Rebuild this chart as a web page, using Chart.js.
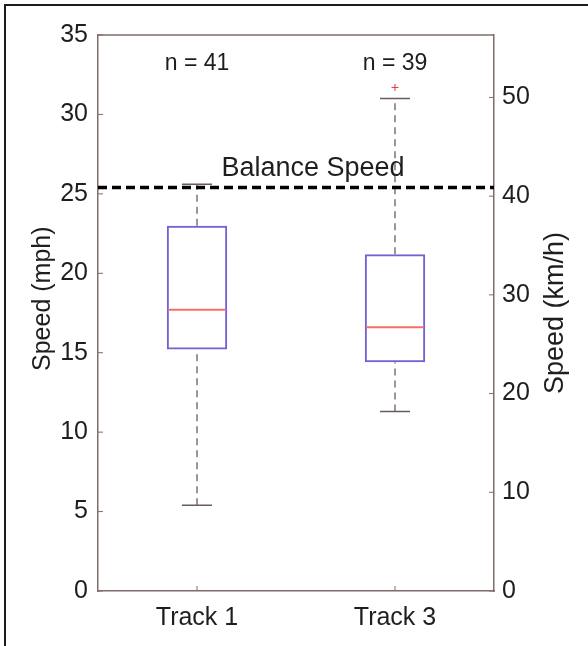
<!DOCTYPE html>
<html><head><meta charset="utf-8">
<script src="https://cdn.jsdelivr.net/npm/chart.js@4.4.1/dist/chart.umd.min.js"></script>
<style>
html,body{margin:0;padding:0;background:#fff;overflow:hidden;}
#wrap{position:relative;width:588px;height:646px;overflow:hidden;background:#fff;}
#frame{position:absolute;left:4px;top:4px;width:620px;height:680px;border-left:2.5px solid #1c1c1c;border-top:2.5px solid #1c1c1c;}
canvas{position:absolute;left:0;top:0;}
</style></head><body>
<div id="wrap"><div id="frame"></div><canvas id="c" width="588" height="646"></canvas></div>
<script>
// ---- data ----
const categories = ['Track 1', 'Track 3'];
const sampleSizes = [41, 39];
const lowerWhisker = [5.4, 11.3];
const q1 = [15.2, 14.4];
const median = [17.7, 16.6];
const q3 = [23.0, 21.2];
const upperWhisker = [25.6, 31.0];
const outliers = [[], [31.7]];
const balanceSpeed = 25.4;
const mphTicks = [0, 5, 10, 15, 20, 25, 30, 35];
const kmhTicks = [0, 10, 20, 30, 40, 50];
const MPH_TO_KMH = 1.609344;

// ---- styles ----
const FONT = 'Liberation Sans, Arial, sans-serif';
const TEXT = '#1e1e1e';
const AXIS = '#7d6e6a';
const BOX = '#7163d6';
const MED = '#f2706a';
const WHISK = '#6a5c5a';

const whiskerData = [];
categories.forEach((c, i) => {
  whiskerData.push({x: c, y: lowerWhisker[i]}, {x: c, y: q1[i]}, {x: c, y: null});
  whiskerData.push({x: c, y: q3[i]}, {x: c, y: upperWhisker[i]}, {x: c, y: null});
});
const capData = [];
categories.forEach((c, i) => {
  capData.push({x: c, y: lowerWhisker[i]}, {x: c, y: upperWhisker[i]});
});
const outlierData = [];
categories.forEach((c, i) => outliers[i].forEach(v => outlierData.push({x: c, y: v})));

function vText(ctx, text, x, y) {
  ctx.save();
  ctx.translate(x, y);
  ctx.rotate(-Math.PI / 2);
  ctx.fillText(text, 0, 0);
  ctx.restore();
}

const decorPlugin = {
  id: 'decor',
  afterDraw(chart) {
    const {ctx, chartArea: a, scales} = chart;
    ctx.save();
    ctx.strokeStyle = AXIS;
    ctx.lineWidth = 1.5;
    // top border
    ctx.beginPath(); ctx.moveTo(a.left, a.top); ctx.lineTo(a.right, a.top); ctx.stroke();
    // inward tick marks
    ctx.lineWidth = 1;
    ctx.beginPath();
    scales.y.ticks.forEach(t => { const p = scales.y.getPixelForValue(t.value); ctx.moveTo(a.left, p); ctx.lineTo(a.left + 5, p); });
    scales.y2.ticks.forEach(t => { const p = scales.y2.getPixelForValue(t.value); ctx.moveTo(a.right, p); ctx.lineTo(a.right - 5, p); });
    categories.forEach((c, i) => { const p = scales.x.getPixelForValue(i); ctx.moveTo(p, a.bottom); ctx.lineTo(p, a.bottom - 5); });
    ctx.stroke();
    // annotations
    ctx.fillStyle = TEXT;
    ctx.textAlign = 'center';
    ctx.textBaseline = 'middle';
    ctx.font = '23px ' + FONT;
    categories.forEach((c, i) => {
      ctx.fillText('n = ' + sampleSizes[i], scales.x.getPixelForValue(i), scales.y.getPixelForValue(33.2));
    });
    ctx.font = '27px ' + FONT;
    ctx.fillText('Balance Speed', scales.xb.getPixelForValue(0.543), scales.y.getPixelForValue(26.6));
    // axis titles (both read bottom-to-top)
    ctx.font = '25px ' + FONT;
    vText(ctx, 'Speed (mph)', 43, scales.y.getPixelForValue(18.4));
    ctx.font = '27px ' + FONT;
    vText(ctx, 'Speed (km/h)', 556, scales.y.getPixelForValue(17.5));
    ctx.restore();
  }
};

new Chart(document.getElementById('c'), {
  data: {
    labels: categories,
    datasets: [
      {
        type: 'bar',
        data: categories.map((c, i) => [q1[i], q3[i]]),
        backgroundColor: 'rgba(255,255,255,0)',
        borderColor: BOX,
        borderWidth: 2,
        borderSkipped: false,
        grouped: false,
        barPercentage: 1,
        categoryPercentage: 0.305,
        xAxisID: 'x', yAxisID: 'y', order: 1
      },
      {
        type: 'line',
        data: whiskerData,
        borderColor: WHISK,
        borderWidth: 1.3,
        borderDash: [7, 5],
        pointRadius: 0,
        spanGaps: false,
        xAxisID: 'x', yAxisID: 'y', order: 3
      },
      {
        type: 'line',
        data: capData,
        showLine: false,
        pointStyle: 'line',
        pointRadius: 15,
        pointBorderColor: WHISK,
        pointBorderWidth: 1.5,
        xAxisID: 'x', yAxisID: 'y', order: 2
      },
      {
        type: 'line',
        data: categories.map((c, i) => ({x: c, y: median[i]})),
        showLine: false,
        pointStyle: 'line',
        pointRadius: 29,
        pointBorderColor: MED,
        pointBorderWidth: 2,
        xAxisID: 'x', yAxisID: 'y', order: 0
      },
      {
        type: 'line',
        data: outlierData,
        showLine: false,
        pointStyle: 'cross',
        pointRadius: 3.5,
        pointBorderColor: '#e03a3a',
        pointBorderWidth: 1,
        xAxisID: 'x', yAxisID: 'y', order: 0
      },
      {
        type: 'line',
        data: [{x: 0, y: balanceSpeed}, {x: 1, y: balanceSpeed}],
        borderColor: '#000',
        borderWidth: 3.5,
        borderDash: [9, 5],
        pointRadius: 0,
        xAxisID: 'xb', yAxisID: 'y', order: 0
      }
    ]
  },
  options: {
    responsive: false,
    animation: false,
    events: [],
    layout: {padding: {top: 35, left: 0, right: 0, bottom: 0}},
    plugins: {legend: {display: false}, tooltip: {enabled: false}},
    scales: {
      x: {
        type: 'category',
        offset: true,
        grid: {display: false},
        border: {display: true, color: AXIS, width: 1.5},
        ticks: {color: TEXT, font: {family: FONT, size: 25}, padding: 4, maxRotation: 0},
        afterFit(s) { s.height = 55; }
      },
      xb: {type: 'linear', min: 0, max: 1, display: false},
      y: {
        type: 'linear',
        position: 'left',
        min: 0, max: 35,
        grid: {display: false},
        border: {display: true, color: AXIS, width: 1.5},
        ticks: {color: TEXT, font: {family: FONT, size: 25}, padding: 2},
        afterBuildTicks(s) { s.ticks = mphTicks.map(v => ({value: v})); },
        afterFit(s) { s.width = 98; }
      },
      y2: {
        type: 'linear',
        position: 'right',
        min: 0, max: 35 * MPH_TO_KMH,
        grid: {display: false},
        border: {display: true, color: AXIS, width: 1.5},
        ticks: {color: TEXT, font: {family: FONT, size: 25}, padding: 0},
        afterBuildTicks(s) { s.ticks = kmhTicks.map(v => ({value: v})); },
        afterFit(s) { s.width = 94; }
      }
    }
  },
  plugins: [decorPlugin]
});
</script>
</body></html>
